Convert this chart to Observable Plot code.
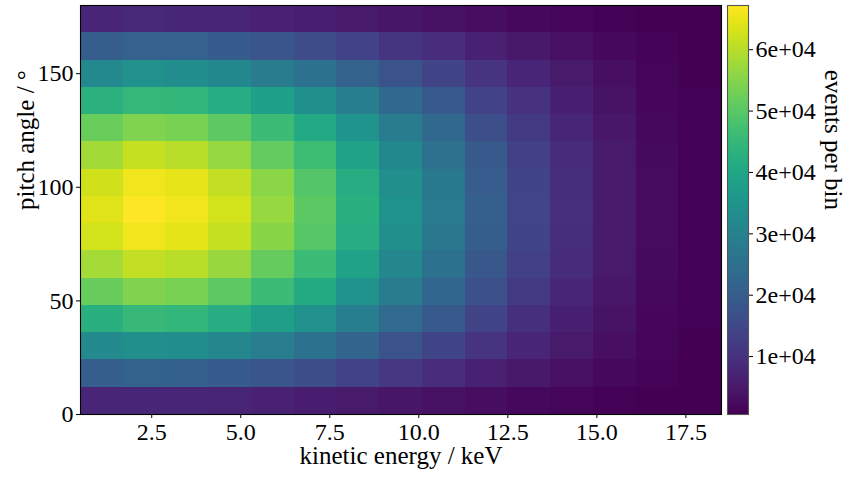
<!DOCTYPE html>
<html><head><meta charset="utf-8">
<script src="https://cdn.jsdelivr.net/npm/d3@7"></script>
<script src="https://cdn.jsdelivr.net/npm/@observablehq/plot@0.6"></script>
<style>
body{margin:0;background:#fff}
#chart{position:relative;width:847px;height:477px;overflow:hidden}
#chart svg{position:absolute;left:0;top:0;overflow:visible}
</style></head><body><div id="chart"></div>
<script>
// bin edges
const energyEdges = [0.5,1.7,2.9,4.1,5.3,6.5,7.7,8.9,10.1,11.3,12.5,13.7,14.9,16.1,17.3,18.5];
const angleEdges = [0,12,24,36,48,60,72,84,96,108,120,132,144,156,168,180];
const xTicks = [2.5,5,7.5,10,12.5,15,17.5];
const yTicks = [0,50,100,150];
const cbarTicks = [10000,20000,30000,40000,50000,60000];
const xLabel = "kinetic energy / keV";
const yLabel = "pitch angle / °";
const cLabel = "events per bin";
// events per bin, rows from lowest pitch-angle bin (0-12) to highest (168-180)
const counts = [
 [7470, 7840, 7690, 7320, 6660, 6000, 5160, 4240, 3510, 2700, 2040, 1490, 1050, 720, 560],
 [20140, 21180, 20760, 19730, 17870, 16010, 13630, 11050, 8980, 6700, 4840, 3290, 2050, 1120, 670],
 [32180, 33850, 33180, 31520, 28510, 25510, 21680, 17510, 14170, 10510, 7500, 5000, 3000, 1500, 770],
 [42950, 45190, 44300, 42060, 38040, 34020, 28880, 23290, 18820, 13910, 9880, 6530, 3850, 1840, 860],
 [51830, 54530, 53450, 50750, 45880, 41020, 34810, 28050, 22650, 16710, 11850, 7790, 4550, 2120, 930],
 [58160, 61200, 59980, 56950, 51490, 46020, 39040, 31460, 25390, 18710, 13250, 8690, 5050, 2320, 990],
 [62600, 65870, 64560, 61290, 55410, 49520, 42010, 33840, 27300, 20110, 14230, 9320, 5400, 2460, 1020],
 [63870, 67200, 65870, 62530, 56530, 50530, 42860, 34520, 27850, 20510, 14510, 9510, 5500, 2500, 1030],
 [62350, 65640, 64720, 61050, 55620, 49310, 42200, 33650, 27420, 19980, 14310, 9250, 5440, 2430, 1010],
 [57940, 61410, 60150, 56780, 51300, 46190, 38870, 31610, 25250, 18830, 13160, 8740, 5010, 2350, 980],
 [52010, 54310, 53620, 50580, 46030, 40860, 34950, 27910, 22760, 16600, 11920, 7740, 4580, 2100, 940],
 [43120, 44970, 44480, 41890, 38190, 33870, 29010, 23170, 18930, 13830, 9940, 6490, 3870, 1830, 870],
 [32040, 34010, 33020, 31660, 28370, 25640, 21560, 17630, 14080, 10590, 7450, 5040, 2980, 1510, 760],
 [20270, 21030, 20890, 19610, 17980, 15900, 13710, 10970, 9050, 6650, 4880, 3260, 2070, 1110, 680],
 [7390, 7920, 7610, 7380, 6590, 6060, 5110, 4280, 3470, 2730, 2010, 1510, 1040, 730, 570]
];

const cells = [];
counts.forEach((row, r) => row.forEach((v, c) => cells.push({
  x1: energyEdges[c], x2: energyEdges[c + 1], y1: angleEdges[r], y2: angleEdges[r + 1], v
})));
const [lo, hi] = d3.extent(cells, d => d.v);

const W = 847, H = 477, mT = 5, mB = 63;
const font = "'Liberation Serif', 'DejaVu Serif', serif";
const tickFont = 24, labelFont = 25;

const main = Plot.plot({
  width: W, height: H,
  marginLeft: 80, marginRight: 126, marginTop: mT, marginBottom: mB,
  style: {fontFamily: font, fontSize: tickFont + "px", color: "#000", background: "white", overflow: "visible"},
  x: {domain: [0.5, 18.5]},
  y: {domain: [0, 180]},
  color: {type: "linear", scheme: "viridis", domain: [lo, hi]},
  marks: [
    Plot.rect(cells, {x1: "x1", x2: "x2", y1: "y1", y2: "y2", fill: "v", shapeRendering: "crispEdges"}),
    Plot.frame({stroke: "#000", strokeWidth: 1.1}),
    Plot.axisX({ticks: xTicks, tickFormat: d3.format(".1f"), tickSize: 4, tickPadding: 4, fontSize: tickFont, label: null}),
    Plot.axisY({ticks: yTicks, tickSize: 4, tickPadding: 3, fontSize: tickFont, label: null}),
    Plot.text([xLabel], {text: d => d, frameAnchor: "bottom", lineAnchor: "middle", dy: 41, fontSize: labelFont}),
    Plot.text([yLabel], {text: d => d, frameAnchor: "left", lineAnchor: "middle", dx: -55, rotate: -90, fontSize: labelFont})
  ]
});

const n = 300;
const stripes = d3.range(n).map(i => ({
  y1: lo + (hi - lo) * i / n,
  y2: lo + (hi - lo) * (i + 1.2) / n,
  v: lo + (hi - lo) * (i + 0.5) / n
}));

const cbar = Plot.plot({
  width: W, height: H,
  marginLeft: 727, marginRight: W - 748, marginTop: mT, marginBottom: mB,
  style: {fontFamily: font, fontSize: tickFont + "px", color: "#000", background: "none", overflow: "visible"},
  x: {domain: [0, 1], axis: null},
  y: {domain: [lo, hi]},
  color: {type: "linear", scheme: "viridis", domain: [lo, hi]},
  marks: [
    Plot.rect(stripes, {x1: 0, x2: 1, y1: "y1", y2: "y2", fill: "v", shapeRendering: "crispEdges"}),
    Plot.frame({stroke: "#555", strokeWidth: 1.1}),
    Plot.axisY({anchor: "right", ticks: cbarTicks, tickFormat: d => `${d / 1e4}e+04`, tickSize: 4, tickPadding: 3, fontSize: tickFont, label: null}),
    Plot.text([cLabel], {text: d => d, frameAnchor: "right", lineAnchor: "middle", dx: 84, rotate: 90, fontSize: labelFont})
  ]
});

const el = document.getElementById("chart");
el.appendChild(main);
el.appendChild(cbar);
</script></body></html>
